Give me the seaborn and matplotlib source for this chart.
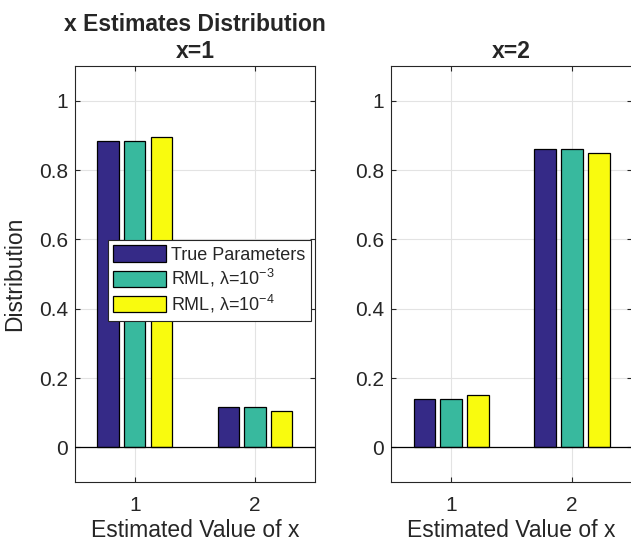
import seaborn as sns
import matplotlib.pyplot as plt
import pandas as pd

# estimated value categories and methods
est_values = ['1', '2']
methods = ['True Parameters', 'RML, λ=10$^{-3}$', 'RML, λ=10$^{-4}$']
colors = ['#352A87', '#38B99E', '#F9FB0E']

# distribution of estimates when true x=1
dist_x1 = {
    'True Parameters': [0.885, 0.115],
    'RML, λ=10$^{-3}$': [0.884, 0.116],
    'RML, λ=10$^{-4}$': [0.894, 0.106],
}
# distribution of estimates when true x=2
dist_x2 = {
    'True Parameters': [0.140, 0.860],
    'RML, λ=10$^{-3}$': [0.140, 0.860],
    'RML, λ=10$^{-4}$': [0.152, 0.848],
}

def to_frame(d):
    rows = []
    for m in methods:
        for v, p in zip(est_values, d[m]):
            rows.append({'est': v, 'method': m, 'dist': p})
    return pd.DataFrame(rows)

sns.set_theme(style='ticks')
plt.rcParams['font.family'] = ['Liberation Sans', 'DejaVu Sans']
plt.rcParams['mathtext.fontset'] = 'custom'
plt.rcParams['mathtext.rm'] = 'Liberation Sans'
plt.rcParams['mathtext.it'] = 'Liberation Sans:italic'
plt.rcParams['mathtext.bf'] = 'Liberation Sans:bold'

fig = plt.figure(figsize=(6.31, 5.42), dpi=100)
ax1 = fig.add_axes([0.1184, 0.1107, 0.3808, 0.7675])
ax2 = fig.add_axes([0.6192, 0.1107, 0.3830, 0.7675])

dark = '#262626'
for ax, d, title in [(ax1, dist_x1, 'x Estimates Distribution\nx=1'),
                     (ax2, dist_x2, 'x=2')]:
    ax.set_axisbelow(True)
    sns.barplot(data=to_frame(d), x='est', y='dist', hue='method',
                order=est_values, hue_order=methods, palette=colors,
                width=0.667, gap=0.2, saturation=1, edgecolor='black',
                linewidth=0.9, errorbar=None, legend=(ax is ax1), ax=ax)
    ax.grid(True, axis='both', color='#e3e3e3', linewidth=0.8)
    ax.axhline(0, color='black', linewidth=0.9, zorder=3)
    ax.set_xlim(-0.5, 1.5)
    ax.set_ylim(-0.1, 1.1)
    ax.set_yticks([0, 0.2, 0.4, 0.6, 0.8, 1])
    ax.set_yticklabels(['0', '0.2', '0.4', '0.6', '0.8', '1'])
    ax.tick_params(direction='in', length=3.6, width=0.8, color=dark,
                   labelcolor=dark, labelsize=15, top=True, right=True)
    ax.tick_params(axis='x', pad=10)
    ax.tick_params(axis='y', pad=5)
    for s in ax.spines.values():
        s.set_visible(True)
        s.set_color(dark)
        s.set_linewidth(0.8)
    ax.set_xlabel('Estimated Value of x', fontsize=16.5, color=dark, labelpad=3)
    ax.set_ylabel('')
    ax.set_title(title, fontsize=16.5, fontweight='bold', pad=6)

ax1.set_ylabel('Distribution', fontsize=16.5, color=dark, labelpad=9)

leg = ax1.legend(loc='upper left', bbox_to_anchor=(108 / 631, 1 - 240 / 542),
                 bbox_transform=fig.transFigure, borderaxespad=0,
                 fontsize=13, frameon=True, fancybox=False, framealpha=1,
                 edgecolor=dark, handlelength=2.9, handleheight=1.0,
                 handletextpad=0.3, labelspacing=0.2, borderpad=0.3)
leg.get_frame().set_linewidth(0.8)

fig.savefig('out.png', dpi=100)
